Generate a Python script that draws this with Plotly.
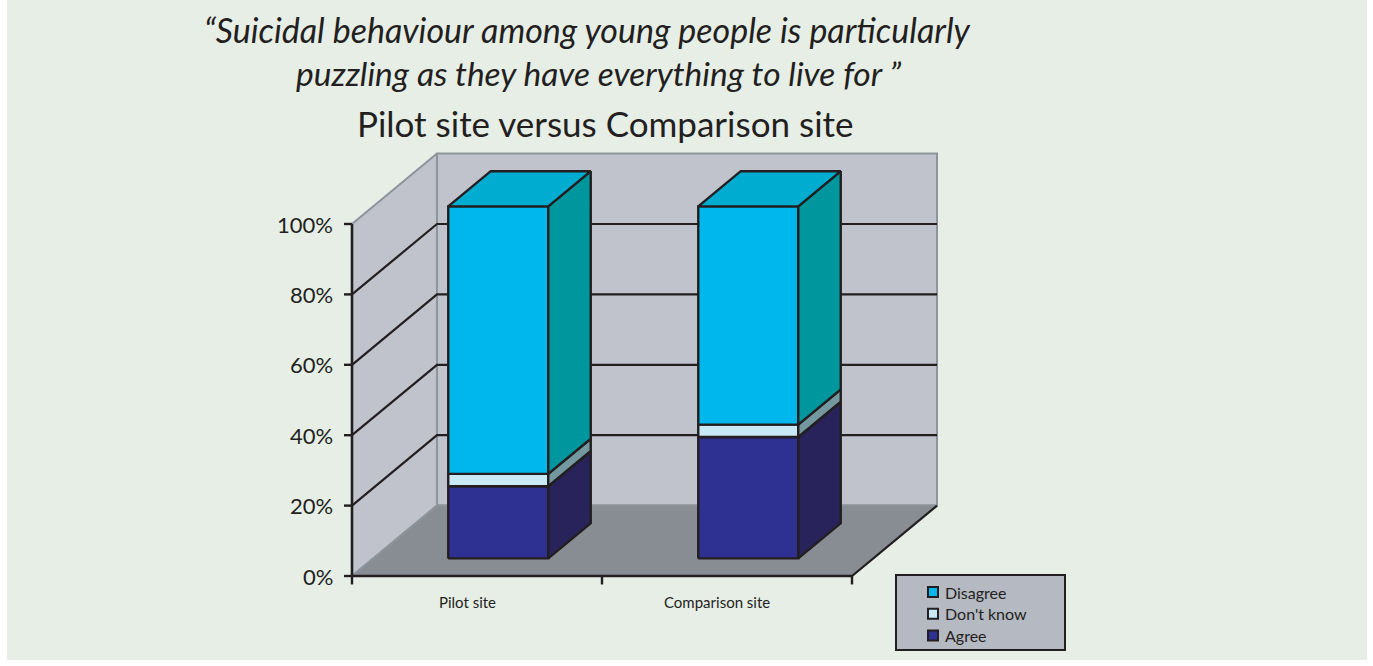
import plotly.graph_objects as go

# ---- data -------------------------------------------------------------
sites = ["Pilot site", "Comparison site"]
responses = ["Agree", "Don't know", "Disagree"]
agree = [20.5, 34.5]
dont_know = [3.5, 3.5]
disagree = [76.0, 62.0]
y_ticks = [0, 20, 40, 60, 80, 100]
y_tick_labels = ["0%", "20%", "40%", "60%", "80%", "100%"]
legend_order = ["Disagree", "Don't know", "Agree"]

# ---- styling ----------------------------------------------------------
FRONT = {"Agree": "#2E3192", "Don't know": "#C8E9F5", "Disagree": "#00B7ED"}
SIDE = {"Agree": "#28235B", "Don't know": "#73989F", "Disagree": "#00969E"}
TOP = {"Agree": "#2A2A7A", "Don't know": "#A9D3DF", "Disagree": "#00ACD0"}
BG = "#E6EEE6"
WALL = "#C0C3CB"
FLOOR = "#888D93"
WALL_EDGE = "#8E949C"
LEGEND_BG = "#B5B9C1"
INK = "#231F20"
FONT = "Lato"

# oblique projection: depth d in [0, 1] shifts x (category units) and y (percent)
DX = 0.34
DV = 20.0
BAR_W = 0.4
D_FRONT, D_BACK = 0.25, 0.75
N = len(sites)

W, H = 1373, 666
X0_PX, Y0_PX = 352, 576        # pixel position of the front-left floor corner
PX_PER_CAT, PX_PER_PCT = 250, 3.52
x_range = [-X0_PX / PX_PER_CAT, (W - X0_PX) / PX_PER_CAT]
y_range = [(Y0_PX - H) / PX_PER_PCT, Y0_PX / PX_PER_PCT]


def px(x):
    return x / W


def py(y):
    return 1 - y / H


def proj(u, v, d):
    return u + d * DX, v + d * DV


def poly(points, fill, line_color=INK, line_w=2.0):
    xs, ys = zip(*[proj(*p) for p in points])
    xs = list(xs) + [xs[0]]
    ys = list(ys) + [ys[0]]
    return go.Scatter(
        x=xs, y=ys, mode="lines", fill="toself", fillcolor=fill,
        line=dict(color=line_color, width=line_w),
        showlegend=False, hoverinfo="skip",
    )


def segment(points, color, width):
    xs, ys = zip(*[proj(*p) for p in points])
    return go.Scatter(x=xs, y=ys, mode="lines", line=dict(color=color, width=width),
                      showlegend=False, hoverinfo="skip")


fig = go.Figure()

# walls and floor
fig.add_trace(poly([(0, 0, 0), (0, 0, 1), (0, 100, 1), (0, 100, 0)], WALL, WALL_EDGE, 2))
fig.add_trace(poly([(0, 0, 1), (N, 0, 1), (N, 100, 1), (0, 100, 1)], WALL, WALL_EDGE, 2))
fig.add_trace(poly([(0, 0, 0), (0, 0, 1), (N, 0, 1), (N, 0, 0)], FLOOR, WALL_EDGE, 2))

# gridlines along the left wall and back wall
for t in y_ticks[1:-1]:
    fig.add_trace(segment([(0, t, 0), (0, t, 1), (N, t, 1)], INK, 2.2))

# floor edges and axes
fig.add_trace(segment([(N, 0, 0), (N, 0, 1)], INK, 2.2))
fig.add_trace(segment([(0, 0, 0), (N, 0, 0)], INK, 2.6))
fig.add_trace(segment([(0, 0, 0), (0, 100, 0)], INK, 2.6))
for t in y_ticks:
    fig.add_trace(segment([(-0.032, t, 0), (0, t, 0)], INK, 2.4))
for k in range(N + 1):
    fig.add_trace(segment([(k, 0, 0), (k, -2.4, 0)], INK, 2.4))

# stacked 3D bars
series = {"Agree": agree, "Don't know": dont_know, "Disagree": disagree}
for i in range(N):
    left = i + 0.5 - BAR_W / 2
    right = i + 0.5 + BAR_W / 2
    base = 0.0
    for r in responses:
        top = base + series[r][i]
        fig.add_trace(poly([(left, base, D_FRONT), (right, base, D_FRONT),
                            (right, top, D_FRONT), (left, top, D_FRONT)],
                           FRONT[r], INK, 2.4))
        fig.add_trace(poly([(right, base, D_FRONT), (right, base, D_BACK),
                            (right, top, D_BACK), (right, top, D_FRONT)],
                           SIDE[r], INK, 2.4))
        base = top
    last = responses[-1]
    fig.add_trace(poly([(left, base, D_FRONT), (left, base, D_BACK),
                        (right, base, D_BACK), (right, base, D_FRONT)],
                       TOP[last], INK, 2.4))

annotations = []
for t, lab in zip(y_ticks, y_tick_labels):
    annotations.append(dict(x=-0.068, y=t, text=lab, xanchor="right", yanchor="middle",
                            showarrow=False, font=dict(family=FONT, size=22, color=INK)))
for i, s in enumerate(sites):
    annotations.append(dict(x=i + 0.46, y=-7.3, text=s, xanchor="center", yanchor="middle",
                            showarrow=False, font=dict(family=FONT, size=15, color=INK)))

title_lines = [
    ("<i>\u201cSuicidal behaviour among young people is particularly</i>", 587, 30, 34),
    ("<i>puzzling as they have everything to live for \u201d</i>", 598, 73, 33.5),
    ("Pilot site versus Comparison site", 605, 123, 35),
]
for text, cx, cy, size in title_lines:
    annotations.append(dict(xref="paper", yref="paper", x=px(cx), y=py(cy), text=text,
                            xanchor="center", yanchor="middle", showarrow=False,
                            font=dict(family=FONT, size=size, color=INK)))

shapes = [
    dict(type="rect", xref="paper", yref="paper", x0=px(7), x1=px(1367),
         y0=py(660), y1=1, fillcolor=BG, line=dict(width=0), layer="below"),
    # legend box
    dict(type="rect", xref="paper", yref="paper", x0=px(896), x1=px(1065),
         y0=py(650), y1=py(575), fillcolor=LEGEND_BG, line=dict(color=INK, width=2)),
]
for k, r in enumerate(legend_order):
    cy = 592 + k * 21.8
    shapes.append(dict(type="rect", xref="paper", yref="paper", x0=px(928), x1=px(938),
                       y0=py(cy + 5), y1=py(cy - 5), fillcolor=FRONT[r],
                       line=dict(color=INK, width=2)))
    annotations.append(dict(xref="paper", yref="paper", x=px(943), y=py(cy), text=r,
                            xanchor="left", yanchor="middle", showarrow=False,
                            font=dict(family=FONT, size=16, color=INK)))

fig.update_layout(
    width=W, height=H,
    margin=dict(l=0, r=0, t=0, b=0),
    paper_bgcolor="white",
    plot_bgcolor="rgba(0,0,0,0)",
    xaxis=dict(range=x_range, visible=False, fixedrange=True),
    yaxis=dict(range=y_range, visible=False, fixedrange=True),
    annotations=annotations,
    shapes=shapes,
    showlegend=False,
)

fig.write_html("out.html")
